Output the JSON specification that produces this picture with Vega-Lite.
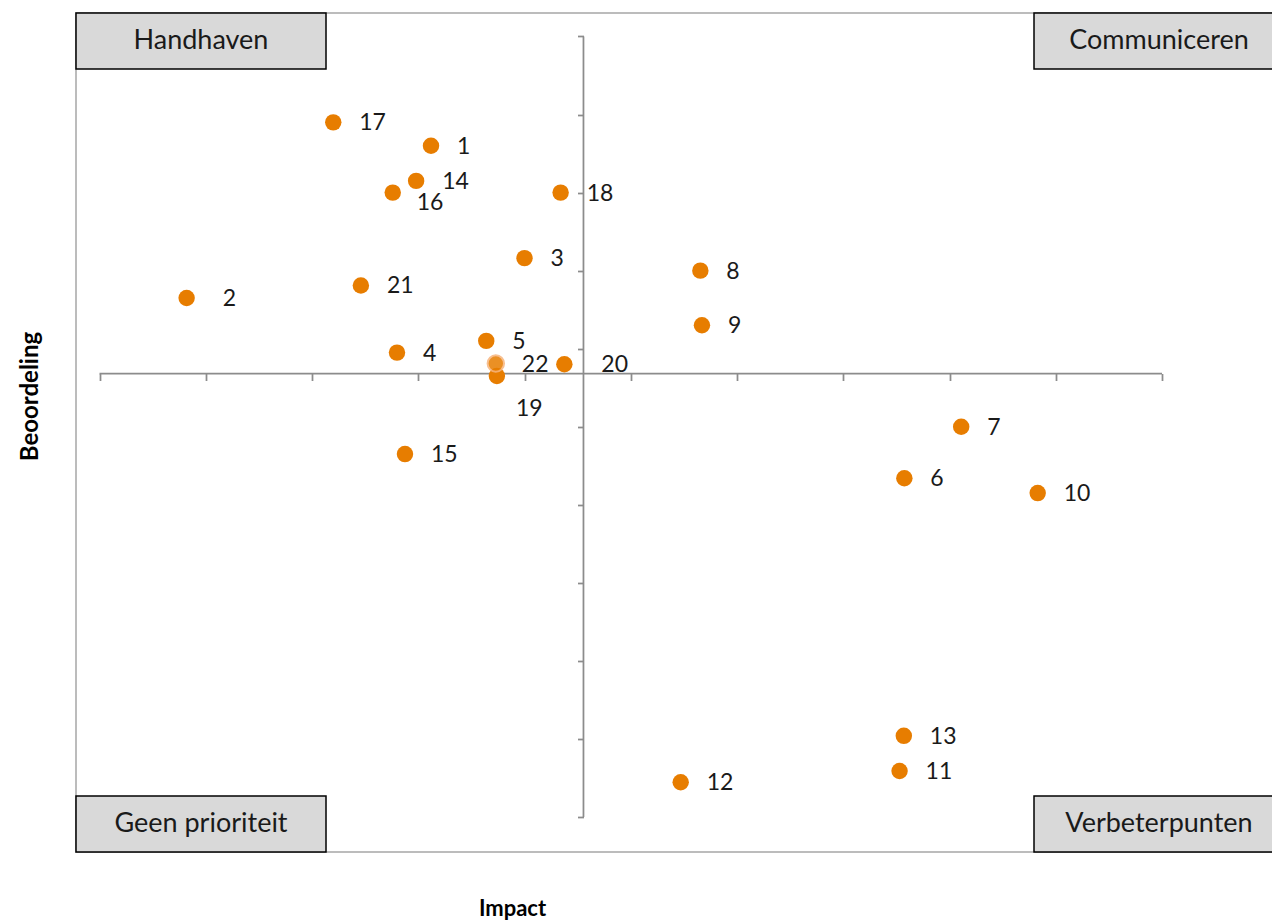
{
  "$schema": "https://vega.github.io/schema/vega-lite/v6.json",
  "autosize": {"type": "none"},
  "padding": {"left": 76, "top": 13, "right": -12, "bottom": 68},
  "width": 1208,
  "height": 839,
  "background": "white",
  "config": {
    "font": "Lato",
    "view": {"stroke": "#a6a6a6", "strokeWidth": 1.5}
  },
  "datasets": {
    "punten": [
      {"nr": 1, "impact": 3.12, "beoordeling": 8.60},
      {"nr": 2, "impact": 0.82, "beoordeling": 6.65},
      {"nr": 3, "impact": 4.00, "beoordeling": 7.16},
      {"nr": 4, "impact": 2.80, "beoordeling": 5.95},
      {"nr": 5, "impact": 3.64, "beoordeling": 6.10},
      {"nr": 6, "impact": 7.575, "beoordeling": 4.34},
      {"nr": 7, "impact": 8.11, "beoordeling": 5.00},
      {"nr": 8, "impact": 5.655, "beoordeling": 7.00},
      {"nr": 9, "impact": 5.67, "beoordeling": 6.30},
      {"nr": 10, "impact": 8.83, "beoordeling": 4.15},
      {"nr": 11, "impact": 7.53, "beoordeling": 0.59},
      {"nr": 12, "impact": 5.47, "beoordeling": 0.445},
      {"nr": 13, "impact": 7.57, "beoordeling": 1.04},
      {"nr": 14, "impact": 2.98, "beoordeling": 8.15},
      {"nr": 15, "impact": 2.875, "beoordeling": 4.65},
      {"nr": 16, "impact": 2.76, "beoordeling": 8.00},
      {"nr": 17, "impact": 2.20, "beoordeling": 8.90},
      {"nr": 18, "impact": 4.34, "beoordeling": 8.00},
      {"nr": 19, "impact": 3.74, "beoordeling": 5.65},
      {"nr": 20, "impact": 4.375, "beoordeling": 5.80},
      {"nr": 21, "impact": 2.46, "beoordeling": 6.81},
      {"nr": 22, "impact": 3.73, "beoordeling": 5.81}
    ],
    "kwadranten": [
      {"kwadrant": "Handhaven", "x0": -0.2212, "x1": 2.1318, "y0": 9.5836, "y1": 10.301, "xm": 0.955, "ym": 9.942},
      {"kwadrant": "Communiceren", "x0": 8.7953, "x1": 11.1482, "y0": 9.5836, "y1": 10.301, "xm": 9.972, "ym": 9.942},
      {"kwadrant": "Geen prioriteit", "x0": -0.2212, "x1": 2.1318, "y0": -0.4484, "y1": 0.269, "xm": 0.955, "ym": -0.09},
      {"kwadrant": "Verbeterpunten", "x0": 8.7953, "x1": 11.1482, "y0": -0.4484, "y1": 0.269, "xm": 9.972, "ym": -0.09}
    ]
  },
  "layer": [
    {
      "data": {"values": [{}]},
      "mark": {"type": "rule", "color": "#8c8c8c", "strokeWidth": 1.75},
      "encoding": {
        "x": {"datum": 0, "type": "quantitative"},
        "x2": {"datum": 10},
        "y": {"datum": 5.682, "type": "quantitative"}
      }
    },
    {
      "data": {"values": [{}]},
      "mark": {"type": "rule", "color": "#8c8c8c", "strokeWidth": 1.75},
      "encoding": {
        "x": {"datum": 4.555, "type": "quantitative"},
        "y": {"datum": 0, "type": "quantitative"},
        "y2": {"datum": 10}
      }
    },
    {
      "data": {"name": "punten"},
      "mark": {"type": "circle", "size": 270, "color": "#E77D00", "stroke": "#F7B57D"},
      "encoding": {
        "x": {
          "field": "impact",
          "type": "quantitative",
          "scale": {"domain": [-0.2212, 11.1482], "nice": false, "zero": false},
          "axis": {
            "orient": "bottom",
            "offset": -478.5,
            "values": [0, 1, 2, 3, 4, 5, 6, 7, 8, 9, 10],
            "domain": false,
            "labels": false,
            "grid": false,
            "tickSize": 7,
            "tickColor": "#8c8c8c",
            "tickWidth": 1.75,
            "title": "Impact",
            "titleFont": "Lato",
            "titleFontWeight": "bold",
            "titleFontSize": 22,
            "titleColor": "#000000",
            "titleX": 436,
            "titleY": 534.5,
            "titleAlign": "center",
            "titleBaseline": "middle",
            "titleAngle": 0
          }
        },
        "y": {
          "field": "beoordeling",
          "type": "quantitative",
          "scale": {"domain": [-0.4484, 10.301], "nice": false, "zero": false},
          "axis": {
            "orient": "left",
            "offset": -507.5,
            "values": [0, 1, 2, 3, 4, 5, 6, 7, 8, 9, 10],
            "domain": false,
            "labels": false,
            "grid": false,
            "tickSize": 6,
            "tickColor": "#8c8c8c",
            "tickWidth": 1.75,
            "title": "Beoordeling",
            "titleFont": "Lato",
            "titleFontWeight": "bold",
            "titleFontSize": 24,
            "titleColor": "#000000",
            "titleX": -553.5,
            "titleY": 383,
            "titleAlign": "center",
            "titleBaseline": "middle",
            "titleAngle": -90
          }
        },
        "opacity": {"condition": {"test": "datum.nr === 22", "value": 0.85}, "value": 1},
        "strokeWidth": {"condition": {"test": "datum.nr === 22", "value": 2}, "value": 0}
      }
    },
    {
      "data": {"name": "punten"},
      "transform": [{"filter": "indexof([2, 16, 19, 20], datum.nr) < 0"}],
      "mark": {"type": "text", "align": "left", "baseline": "middle", "dx": 26, "dy": 1, "fontSize": 23, "color": "#1a1a1a"},
      "encoding": {
        "x": {"field": "impact", "type": "quantitative"},
        "y": {"field": "beoordeling", "type": "quantitative"},
        "text": {"field": "nr", "type": "nominal"}
      }
    },
    {
      "data": {"name": "punten"},
      "transform": [{"filter": "datum.nr === 2"}],
      "mark": {"type": "text", "align": "left", "baseline": "middle", "dx": 36, "dy": 1, "fontSize": 23, "color": "#1a1a1a"},
      "encoding": {
        "x": {"field": "impact", "type": "quantitative"},
        "y": {"field": "beoordeling", "type": "quantitative"},
        "text": {"field": "nr", "type": "nominal"}
      }
    },
    {
      "data": {"name": "punten"},
      "transform": [{"filter": "datum.nr === 20"}],
      "mark": {"type": "text", "align": "left", "baseline": "middle", "dx": 37, "dy": 1, "fontSize": 23, "color": "#1a1a1a"},
      "encoding": {
        "x": {"field": "impact", "type": "quantitative"},
        "y": {"field": "beoordeling", "type": "quantitative"},
        "text": {"field": "nr", "type": "nominal"}
      }
    },
    {
      "data": {"name": "punten"},
      "transform": [{"filter": "datum.nr === 19"}],
      "mark": {"type": "text", "align": "left", "baseline": "middle", "dx": 19, "dy": 33, "fontSize": 23, "color": "#1a1a1a"},
      "encoding": {
        "x": {"field": "impact", "type": "quantitative"},
        "y": {"field": "beoordeling", "type": "quantitative"},
        "text": {"field": "nr", "type": "nominal"}
      }
    },
    {
      "data": {"name": "punten"},
      "transform": [{"filter": "datum.nr === 16"}],
      "mark": {"type": "text", "align": "left", "baseline": "middle", "dx": 24, "dy": 10, "fontSize": 23, "color": "#1a1a1a"},
      "encoding": {
        "x": {"field": "impact", "type": "quantitative"},
        "y": {"field": "beoordeling", "type": "quantitative"},
        "text": {"field": "nr", "type": "nominal"}
      }
    },
    {
      "data": {"name": "kwadranten"},
      "mark": {"type": "rect", "fill": "#d9d9d9", "stroke": "#000000", "strokeWidth": 1.5},
      "encoding": {
        "x": {"field": "x0", "type": "quantitative"},
        "x2": {"field": "x1"},
        "y": {"field": "y0", "type": "quantitative"},
        "y2": {"field": "y1"}
      }
    },
    {
      "data": {"name": "kwadranten"},
      "mark": {"type": "text", "align": "center", "baseline": "middle", "fontSize": 27, "color": "#1a1a1a"},
      "encoding": {
        "x": {"field": "xm", "type": "quantitative"},
        "y": {"field": "ym", "type": "quantitative"},
        "text": {"field": "kwadrant", "type": "nominal"}
      }
    }
  ]
}
